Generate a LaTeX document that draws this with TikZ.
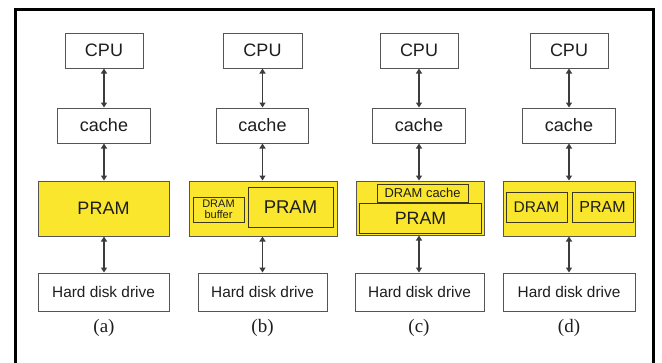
\documentclass[tikz,border=0pt]{standalone}
\usepackage{fontspec}
\setmainfont{Liberation Sans}
\newfontfamily\capfont{Liberation Serif}
\usetikzlibrary{arrows.meta}

\definecolor{memyellow}{RGB}{250,230,45}
\definecolor{boxline}{RGB}{85,85,85}
\definecolor{arrowline}{RGB}{60,60,60}
\definecolor{innerline}{RGB}{60,55,30}
\definecolor{textgray}{RGB}{30,30,30}

\tikzset{
  plainbox/.style={draw=boxline, line width=1pt, fill=white, text=textgray,
    inner sep=0pt, font=\fontsize{18}{18}\selectfont},
  membox/.style={draw=boxline, line width=1pt, fill=memyellow, text=textgray,
    inner sep=0pt},
  innerbox/.style={draw=innerline, line width=1pt, fill=memyellow, text=textgray,
    inner sep=0pt},
  hddbox/.style={plainbox, font=\fontsize{15.4}{15.4}\selectfont},
  link/.style={draw=arrowline, line width=1.2pt,
    {Triangle[width=6pt,length=5pt]}-{Triangle[width=6pt,length=5pt]}},
  sublabel/.style={font=\capfont\fontsize{19}{19}\selectfont, text=textgray}
}

\begin{document}
\begin{tikzpicture}[x=1pt,y=-1pt]
\useasboundingbox (0,0) rectangle (662,362);

% outer frame, open at the bottom
\draw[line width=3pt, line cap=rect] (15,362) -- (15,9) -- (653.5,9) -- (653.5,362);

% ---------- column (a) ----------
\node[plainbox, minimum width=78pt, minimum height=35pt] (cpuA) at (104,50.5) {CPU};
\node[plainbox, minimum width=93pt, minimum height=35pt] (cacheA) at (104,125.5) {cache};
\node[membox, minimum width=131pt, minimum height=55pt, font=\fontsize{18}{18}\selectfont]
  (memA) at (103.5,208.5) {PRAM};
\node[hddbox, minimum width=131pt, minimum height=38pt] (hddA) at (103.5,292) {Hard disk drive};
\node[sublabel] (labA) at (104,328) {(a)};
\draw[link] (cpuA.south) -- (cacheA.north);
\draw[link] (cacheA.south) -- (cacheA.south |- memA.north);
\draw[link] (cacheA.south |- memA.south) -- (cacheA.south |- hddA.north);

% ---------- column (b) ----------
\node[plainbox, minimum width=79pt, minimum height=35pt] (cpuB) at (262.5,50.5) {CPU};
\node[plainbox, minimum width=92pt, minimum height=35pt] (cacheB) at (262.5,125.5) {cache};
\node[membox, minimum width=148pt, minimum height=55pt] (memB) at (263,208.5) {};
\node[innerbox, minimum width=51pt, minimum height=25pt, align=center,
  font=\fontsize{11}{11}\selectfont] (dramB) at (218.5,209.5) {DRAM\\buffer};
\node[innerbox, minimum width=85pt, minimum height=40pt, font=\fontsize{18.5}{18.5}\selectfont]
  (pramB) at (290.5,207) {PRAM};
\node[hddbox, minimum width=129pt, minimum height=38pt] (hddB) at (262.5,292) {Hard disk drive};
\node[sublabel] (labB) at (262.5,328) {(b)};
\draw[link] (cpuB.south) -- (cacheB.north);
\draw[link] (cacheB.south) -- (cacheB.south |- memB.north);
\draw[link] (cacheB.south |- memB.south) -- (cacheB.south |- hddB.north);

% ---------- column (c) ----------
\node[plainbox, minimum width=78pt, minimum height=35pt] (cpuC) at (419,50.5) {CPU};
\node[plainbox, minimum width=93pt, minimum height=35pt] (cacheC) at (419,125.5) {cache};
\node[membox, minimum width=128pt, minimum height=54pt] (memC) at (420,208) {};
\node[innerbox, minimum width=91pt, minimum height=18pt, font=\fontsize{12.9}{12.9}\selectfont]
  (dramC) at (422.5,193) {DRAM cache};
\node[innerbox, minimum width=122pt, minimum height=30pt, font=\fontsize{17.8}{17.8}\selectfont]
  (pramC) at (420.5,218) {PRAM};
\node[hddbox, minimum width=129pt, minimum height=38pt] (hddC) at (419.5,292) {Hard disk drive};
\node[sublabel] (labC) at (419,328) {(c)};
\draw[link] (cpuC.south) -- (cacheC.north);
\draw[link] (cacheC.south) -- (cacheC.south |- memC.north);
\draw[link] (cacheC.south |- memC.south) -- (cacheC.south |- hddC.north);

% ---------- column (d) ----------
\node[plainbox, minimum width=78pt, minimum height=35pt] (cpuD) at (569,50.5) {CPU};
\node[plainbox, minimum width=93pt, minimum height=35pt] (cacheD) at (569,125.5) {cache};
\node[membox, minimum width=132pt, minimum height=55pt] (memD) at (569,208.5) {};
\node[innerbox, minimum width=61pt, minimum height=30pt, font=\fontsize{15.5}{15.5}\selectfont]
  (dramD) at (536.5,207) {DRAM};
\node[innerbox, minimum width=61pt, minimum height=30pt, font=\fontsize{16}{16}\selectfont]
  (pramD) at (602.5,207) {PRAM};
\node[hddbox, minimum width=132pt, minimum height=38pt] (hddD) at (569,292) {Hard disk drive};
\node[sublabel] (labD) at (569,328) {(d)};
\draw[link] (cpuD.south) -- (cacheD.north);
\draw[link] (cacheD.south) -- (cacheD.south |- memD.north);
\draw[link] (cacheD.south |- memD.south) -- (cacheD.south |- hddD.north);
\end{tikzpicture}
\end{document}
